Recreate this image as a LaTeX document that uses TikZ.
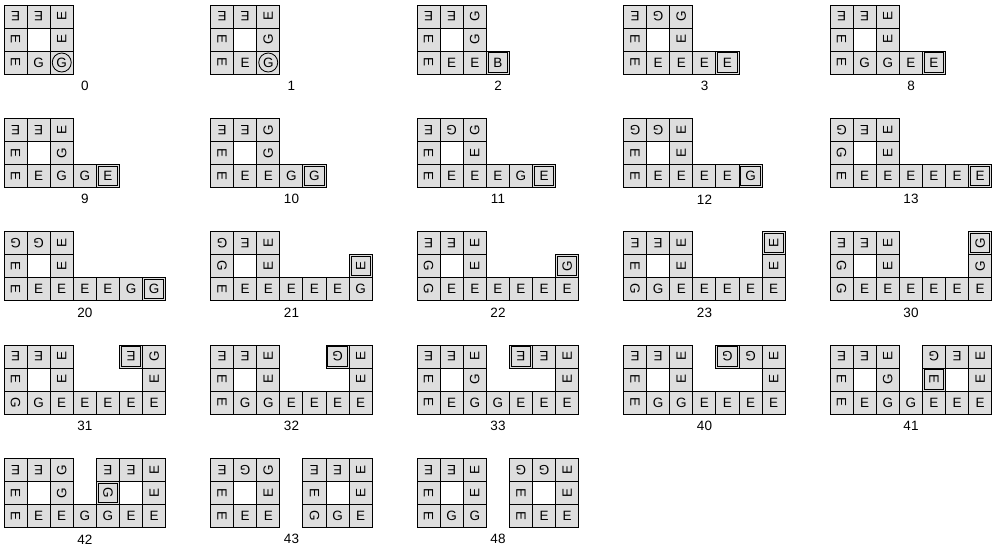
\documentclass[tikz,border=0pt]{standalone}
\usepackage{fontspec}
\setmainfont{Liberation Sans}
\usepackage{graphicx}
\definecolor{cellgray}{RGB}{222,222,222}
\tikzset{
  x=1pt, y=1pt,
  cellbox/.style={draw=black, line width=0.9pt, fill=cellgray, minimum width=23.1pt,
    minimum height=23pt, inner sep=0pt, font=\fontsize{13.5}{15}\selectfont},
  innerframe/.style={draw=black, line width=0.9pt},
  ring/.style={draw=black, line width=0.8pt, circle, minimum size=19pt, inner sep=0pt},
  lab/.style={font=\fontsize{13.5}{15}\selectfont, inner sep=0pt}
}
\newcommand\Rt[2]{\rotatebox[origin=c]{#1}{#2}}
\newcommand\eU{E}\newcommand\eL{\Rt{-90}{E}}\newcommand\eT{\Rt{180}{E}}\newcommand\eR{\Rt{90}{E}}
\newcommand\gU{G}\newcommand\gL{\Rt{-90}{G}}\newcommand\gT{\Rt{180}{G}}\newcommand\gR{\Rt{90}{G}}
\newcommand\Cl[3]{\node[cellbox] (p\pn-#1-#2) at ({(#1+0.5)*23.1},{-(#2+0.5)*23}) {#3};}
\newcommand\Bx[3]{\Cl{#1}{#2}{#3}\draw[innerframe] ([shift={(2.3,-2.3)}]p\pn-#1-#2.north west) rectangle ([shift={(-2.3,2.3)}]p\pn-#1-#2.south east);}
\newcommand\Ci[3]{\Cl{#1}{#2}{#3}\node[ring] (p\pn-#1-#2-ring) at (p\pn-#1-#2) {};}
\newcommand\Panel[4]{%
  \begin{scope}[shift={({4+#1*206.5},{-(5+#2*113.33)})}]
    \def\pn{#3}#4
    \node[lab] (lab#3) at (81,-81) {#3};
  \end{scope}}
\begin{document}
\begin{tikzpicture}
\useasboundingbox (0,0) rectangle (997,-552);
% row 1
\Panel{0}{0}{0}{\Cl00\eT\Cl10\eT\Cl20\eR \Cl01\eL\Cl21\eR \Cl02\eL\Cl12\gU\Ci22\gU}
\Panel{1}{0}{1}{\Cl00\eT\Cl10\eT\Cl20\eR \Cl01\eL\Cl21\gR \Cl02\eL\Cl12\eU\Ci22\gU}
\Panel{2}{0}{2}{\Cl00\eT\Cl10\eT\Cl20\gR \Cl01\eL\Cl21\gR \Cl02\eL\Cl12\eU\Cl22\eU\Bx32B}
\Panel{3}{0}{3}{\Cl00\eT\Cl10\gT\Cl20\gR \Cl01\eL\Cl21\eR \Cl02\eL\Cl12\eU\Cl22\eU\Cl32\eU\Bx42E}
\Panel{4}{0}{8}{\Cl00\eT\Cl10\eT\Cl20\eR \Cl01\eL\Cl21\eR \Cl02\eL\Cl12\gU\Cl22\gU\Cl32\eU\Bx42E}
% row 2
\Panel{0}{1}{9}{\Cl00\eT\Cl10\eT\Cl20\eR \Cl01\eL\Cl21\gR \Cl02\eL\Cl12\eU\Cl22\gU\Cl32\gU\Bx42E}
\Panel{1}{1}{10}{\Cl00\eT\Cl10\eT\Cl20\gR \Cl01\eL\Cl21\gR \Cl02\eL\Cl12\eU\Cl22\eU\Cl32\gU\Bx42G}
\Panel{2}{1}{11}{\Cl00\eT\Cl10\gT\Cl20\gR \Cl01\eL\Cl21\eR \Cl02\eL\Cl12\eU\Cl22\eU\Cl32\eU\Cl42\gU\Bx52E}
\Panel{3}{1}{12}{\Cl00\gT\Cl10\gT\Cl20\eR \Cl01\eL\Cl21\eR \Cl02\eL\Cl12\eU\Cl22\eU\Cl32\eU\Cl42\eU\Bx52G}
\Panel{4}{1}{13}{\Cl00\gT\Cl10\eT\Cl20\eR \Cl01\gL\Cl21\eR \Cl02\eL\Cl12\eU\Cl22\eU\Cl32\eU\Cl42\eU\Cl52\eU\Bx62E}
% row 3
\Panel{0}{2}{20}{\Cl00\gT\Cl10\gT\Cl20\eR \Cl01\eL\Cl21\eR \Cl02\eL\Cl12\eU\Cl22\eU\Cl32\eU\Cl42\eU\Cl52\gU\Bx62G}
\Panel{1}{2}{21}{\Cl00\gT\Cl10\eT\Cl20\eR \Cl01\gL\Cl21\eR\Bx61\eR \Cl02\eL\Cl12\eU\Cl22\eU\Cl32\eU\Cl42\eU\Cl52\eU\Cl62\gU}
\Panel{2}{2}{22}{\Cl00\eT\Cl10\eT\Cl20\eR \Cl01\gL\Cl21\eR\Bx61\gR \Cl02\gL\Cl12\eU\Cl22\eU\Cl32\eU\Cl42\eU\Cl52\eU\Cl62\eU}
\Panel{3}{2}{23}{\Cl00\eT\Cl10\eT\Cl20\eR\Bx60\eR \Cl01\eL\Cl21\eR\Cl61\eR \Cl02\gL\Cl12\gU\Cl22\eU\Cl32\eU\Cl42\eU\Cl52\eU\Cl62\eU}
\Panel{4}{2}{30}{\Cl00\eT\Cl10\eT\Cl20\eR\Bx60\gR \Cl01\gL\Cl21\eR\Cl61\gR \Cl02\gL\Cl12\eU\Cl22\eU\Cl32\eU\Cl42\eU\Cl52\eU\Cl62\eU}
% row 4
\Panel{0}{3}{31}{\Cl00\eT\Cl10\eT\Cl20\eR\Bx50\eT\Cl60\gR \Cl01\eL\Cl21\eR\Cl61\eR \Cl02\gL\Cl12\gU\Cl22\eU\Cl32\eU\Cl42\eU\Cl52\eU\Cl62\eU}
\Panel{1}{3}{32}{\Cl00\eT\Cl10\eT\Cl20\eR\Bx50\gT\Cl60\eR \Cl01\eL\Cl21\eR\Cl61\eR \Cl02\eL\Cl12\gU\Cl22\gU\Cl32\eU\Cl42\eU\Cl52\eU\Cl62\eU}
\Panel{2}{3}{33}{\Cl00\eT\Cl10\eT\Cl20\eR\Bx40\eT\Cl50\eT\Cl60\eR \Cl01\eL\Cl21\gR\Cl61\eR \Cl02\eL\Cl12\eU\Cl22\gU\Cl32\gU\Cl42\eU\Cl52\eU\Cl62\eU}
\Panel{3}{3}{40}{\Cl00\eT\Cl10\eT\Cl20\eR\Bx40\gT\Cl50\gT\Cl60\eR \Cl01\eL\Cl21\eR\Cl61\eR \Cl02\eL\Cl12\gU\Cl22\gU\Cl32\eU\Cl42\eU\Cl52\eU\Cl62\eU}
\Panel{4}{3}{41}{\Cl00\eT\Cl10\eT\Cl20\eR\Cl40\gT\Cl50\eT\Cl60\eR \Cl01\eL\Cl21\gR\Bx41\eL\Cl61\eR \Cl02\eL\Cl12\eU\Cl22\gU\Cl32\gU\Cl42\eU\Cl52\eU\Cl62\eU}
% row 5
\Panel{0}{4}{42}{\Cl00\eT\Cl10\eT\Cl20\gR\Cl40\eT\Cl50\eT\Cl60\eR \Cl01\eL\Cl21\gR\Bx41\gL\Cl61\eR \Cl02\eL\Cl12\eU\Cl22\eU\Cl32\gU\Cl42\gU\Cl52\eU\Cl62\eU}
\Panel{1}{4}{43}{\Cl00\eT\Cl10\gT\Cl20\gR\Cl40\eT\Cl50\eT\Cl60\eR \Cl01\eL\Cl21\eR\Cl41\eL\Cl61\eR \Cl02\eL\Cl12\eU\Cl22\eU\Cl42\gL\Cl52\gU\Cl62\eU}
\Panel{2}{4}{48}{\Cl00\eT\Cl10\eT\Cl20\eR\Cl40\gT\Cl50\gT\Cl60\eR \Cl01\eL\Cl21\eR\Cl41\eL\Cl61\eR \Cl02\eL\Cl12\gU\Cl22\gU\Cl42\eL\Cl52\eU\Cl62\eU}
\end{tikzpicture}
\end{document}
